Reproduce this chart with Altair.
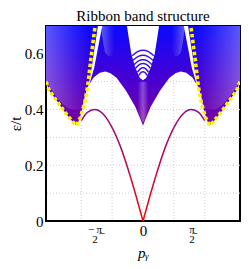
import altair as alt
import pandas as pd
import math

PI = math.pi

# ---- data ----
# lower envelope of the bulk continuum (p_y, eps/t)
env_p = [-PI, -3.03, -2.77, -2.51, -2.26, -2.15, -2.06, -1.97, -1.90, -1.80, -1.60, -1.40, -1.22, -1.05, -0.85, -0.55, -0.25, 0.0,
         0.25, 0.55, 0.85, 1.05, 1.22, 1.40, 1.60, 1.80, 1.90, 1.97, 2.06, 2.15, 2.26, 2.51, 2.77, 3.03, PI]
env_e = [0.500, 0.468, 0.428, 0.388, 0.354, 0.343, 0.365, 0.400, 0.440, 0.480, 0.515, 0.532, 0.537, 0.530, 0.513, 0.468, 0.410, 0.343,
         0.410, 0.468, 0.513, 0.530, 0.537, 0.532, 0.515, 0.480, 0.440, 0.400, 0.365, 0.343, 0.354, 0.388, 0.428, 0.468, 0.500]
top_e = 0.7

# white V-shaped gap at the centre (upper part)
gap_p = [-0.52, -0.45, -0.38, -0.26, -0.10, 0.0, 0.10, 0.26, 0.38, 0.45, 0.52]
gap_e = [0.700, 0.650, 0.600, 0.554, 0.513, 0.505, 0.513, 0.554, 0.600, 0.650, 0.700]

# arches seen inside the central gap
arch_c = [0.613, 0.595, 0.579, 0.565, 0.550, 0.536]
arch_mid = [0.608, 0.590, 0.575, 0.561, 0.546, 0.533]
arch_end = [0.593, 0.576, 0.561, 0.548, 0.534, 0.523]
arch_w = [0.35, 0.33, 0.29, 0.24, 0.18, 0.13]

# narrow white wedges just inside the yellow edges (left side; right side mirrored values)
wedge_e = [0.49, 0.55, 0.62, 0.70]
wedge_in = [1.76, 1.66, 1.57, 1.46]
wedge_out = [1.74, 1.58, 1.46, 1.32]

# sparse (lighter) line regions
sparse_left_p = [-PI, -2.9, -2.6, -2.3, -2.0, -1.75]
sparse_left_lo = [0.50, 0.46, 0.42, 0.40, 0.40, 0.48]
sparse_b_p = [-1.34, -1.2, -1.05, -0.92]
sparse_b_lo = [0.68, 0.60, 0.59, 0.62]
sparse_c_p = [-0.18, -0.09, 0.0, 0.09, 0.18]
sparse_c_lo = [0.40, 0.37, 0.355, 0.37, 0.40]
sparse_c_hi = [0.49, 0.50, 0.50, 0.50, 0.49]

# yellow dotted bulk edge
yl_p_left = [-PI, -3.03, -2.77, -2.51, -2.26, -2.15, -2.03, -1.88, -1.79, -1.69, -1.55]
yl_p_right = [PI, 3.03, 2.77, 2.51, 2.26, 2.15, 2.03, 1.88, 1.79, 1.69, 1.55]
yl_e = [0.500, 0.468, 0.428, 0.388, 0.354, 0.343, 0.371, 0.428, 0.485, 0.580, 0.700]

# edge state
edge_p_left = [-2.0, -1.8, -1.57, -1.3, -1.0, -0.7, -0.4, -0.2, 0.0]
edge_p_right = [0.0, 0.2, 0.4, 0.7, 1.0, 1.3, 1.57, 1.8, 2.0]
edge_e_left = [0.360, 0.390, 0.400, 0.385, 0.335, 0.258, 0.156, 0.080, 0.0]
edge_e_right = [0.0, 0.080, 0.156, 0.258, 0.335, 0.385, 0.400, 0.390, 0.360]

grid_x = [-2, -1, 0, 1, 2]
grid_y = [0.1, 0.2, 0.3, 0.4, 0.5, 0.6]

x_ticks = [-PI / 2, 0, PI / 2]
y_ticks = [0, 0.2, 0.4, 0.6]

# ---- tables ----
env_df = pd.DataFrame({"p": env_p, "e": env_e, "top": [top_e] * len(env_p)})
gap_df = pd.DataFrame({"p": gap_p, "e": gap_e, "top": [top_e] * len(gap_p)})
arch_rows = []
for i in range(len(arch_c)):
    pts = [(-arch_w[i], arch_end[i]), (-arch_w[i] / 2, arch_mid[i]), (0.0, arch_c[i]),
           (arch_w[i] / 2, arch_mid[i]), (arch_w[i], arch_end[i])]
    for p, e in pts:
        arch_rows.append({"p": p, "e": e, "k": i})
arch_df = pd.DataFrame(arch_rows)
wedge_df = pd.DataFrame({
    "e": wedge_e + wedge_e,
    "a": [-v for v in wedge_in] + wedge_out,
    "b": [-v for v in wedge_out] + wedge_in,
    "s": ["l"] * 4 + ["r"] * 4,
})
sp_left_df = pd.DataFrame({"p": sparse_left_p, "e": sparse_left_lo, "top": [top_e] * len(sparse_left_p)})
sp_right_df = pd.DataFrame({"p": [-v for v in sparse_left_p], "e": sparse_left_lo, "top": [top_e] * len(sparse_left_p)})
sp_b_left_df = pd.DataFrame({"p": sparse_b_p, "e": sparse_b_lo, "top": [top_e] * len(sparse_b_p)})
sp_b_right_df = pd.DataFrame({"p": [-v for v in sparse_b_p], "e": sparse_b_lo, "top": [top_e] * len(sparse_b_p)})
sp_c_df = pd.DataFrame({"p": sparse_c_p, "e": sparse_c_lo, "top": sparse_c_hi})
yl_df = pd.DataFrame({"p": yl_p_left + yl_p_right, "e": yl_e + yl_e, "s": ["l"] * 11 + ["r"] * 11,
                      "o": list(range(11)) + list(range(11))})
edge_df = pd.DataFrame({"p": edge_p_left + edge_p_right, "e": edge_e_left + edge_e_right,
                        "s": ["l"] * 9 + ["r"] * 9})
gx_df = pd.DataFrame({"p": grid_x})
gy_df = pd.DataFrame({"e": grid_y})

xs = alt.Scale(domain=[-PI, PI], nice=False, zero=False)
ys = alt.Scale(domain=[0, 0.7], nice=False, zero=False)

FONT = "Liberation Serif"

x_axis = alt.Axis(
    values=x_ticks,
    labelExpr="abs(datum.value) < 0.01 ? '0' : (datum.value < 0 ? ['\u2212\u2009\u03c0\u0332', '\u2007\u2009\u20092'] : ['\u03c0\u0332', '2'])",
    labelFontSize=alt.condition("abs(datum.value) < 0.01", alt.value(15), alt.value(11)),
    labelLineHeight=10.5,
    labelFont=FONT,
    labelColor="black",
    labelPadding=2,
    ticks=False,
    grid=False,
    domain=False,
    title="p\u1d67",
    titleFont=FONT,
    titleFontStyle="italic",
    titleFontWeight="normal",
    titleFontSize=15,
    titleColor="black",
    titlePadding=1,
)
y_axis = alt.Axis(
    values=y_ticks,
    format=".1~f",
    labelFontSize=15,
    labelFont=FONT,
    labelColor="black",
    labelPadding=3,
    ticks=False,
    grid=False,
    domain=False,
    title="\u03b5/t",
    titleFont=FONT,
    titleFontWeight="normal",
    titleFontSize=15,
    titleColor="black",
    titlePadding=1,
)


def X(field="p:Q"):
    return alt.X(field, scale=xs, axis=x_axis)


def Y(field="e:Q"):
    return alt.Y(field, scale=ys, axis=y_axis)


grid_v = alt.Chart(gx_df).mark_rule(color="#cfcfcf", strokeDash=[1, 2], strokeWidth=1).encode(x=X())
grid_h = alt.Chart(gy_df).mark_rule(color="#cfcfcf", strokeDash=[1, 2], strokeWidth=1).encode(y=Y())

band_grad = alt.Gradient(
    gradient="linear",
    stops=[alt.GradientStop(color="#0a0aff", offset=0), alt.GradientStop(color="#4a00d0", offset=0.55),
           alt.GradientStop(color="#7a00a0", offset=1)],
    x1=0, x2=0, y1=0, y2=1,
)
band = alt.Chart(env_df).mark_area(color=band_grad, clip=True).encode(x=X(), y=Y(), y2="top:Q")


def light(grad_dir):
    if grad_dir == "lr":
        stops = [alt.GradientStop(color="rgba(255,255,255,0.32)", offset=0),
                 alt.GradientStop(color="rgba(255,255,255,0.08)", offset=0.7),
                 alt.GradientStop(color="rgba(255,255,255,0)", offset=1)]
        return alt.Gradient(gradient="linear", stops=stops, x1=0, x2=1, y1=0, y2=0)
    if grad_dir == "rl":
        stops = [alt.GradientStop(color="rgba(255,255,255,0)", offset=0),
                 alt.GradientStop(color="rgba(255,255,255,0.08)", offset=0.3),
                 alt.GradientStop(color="rgba(255,255,255,0.32)", offset=1)]
        return alt.Gradient(gradient="linear", stops=stops, x1=0, x2=1, y1=0, y2=0)
    stops = [alt.GradientStop(color="rgba(255,255,255,0)", offset=0),
             alt.GradientStop(color="rgba(255,255,255,0.3)", offset=0.5),
             alt.GradientStop(color="rgba(255,255,255,0)", offset=1)]
    return alt.Gradient(gradient="linear", stops=stops, x1=0, x2=1, y1=0, y2=0)


def light_area(df, d):
    return alt.Chart(df).mark_area(color=light(d), clip=True, interpolate="monotone").encode(
        x=X(), y=Y(), y2="top:Q")


sp1 = light_area(sp_left_df, "lr")
sp2 = light_area(sp_right_df, "rl")
sp3 = light_area(sp_b_left_df, "lr")
sp4 = light_area(sp_b_right_df, "rl")
sp5 = light_area(sp_c_df, "c")

gap = alt.Chart(gap_df).mark_area(color="white", clip=True).encode(x=X(), y=Y(), y2="top:Q")

wedges = alt.Chart(wedge_df).mark_area(color="white", orient="horizontal", clip=True).encode(
    y=Y(), x=X("a:Q"), x2="b:Q", detail="s:N")

arches = alt.Chart(arch_df).mark_line(color="#3a14dc", strokeWidth=1.5, interpolate="monotone", clip=True).encode(
    x=X(), y=Y(), detail="k:N")

edge_grad = alt.Gradient(
    gradient="linear",
    stops=[alt.GradientStop(color="#8a0a8a", offset=0), alt.GradientStop(color="#ff0000", offset=1)],
    x1=0, x2=0, y1=0, y2=1,
)
edge = alt.Chart(edge_df).mark_line(stroke=edge_grad, strokeWidth=1.5, interpolate="monotone", clip=True).encode(
    x=X(), y=Y(), detail="s:N")

yellow = alt.Chart(yl_df).mark_line(color="#fff200", strokeWidth=3.6, strokeDash=[3.5, 2.5], clip=True).encode(
    x=X(), y=Y(), detail="s:N", order="o:Q")

chart = alt.layer(grid_v, grid_h, band, sp1, sp2, sp3, sp4, sp5, gap, wedges, arches, edge, yellow).properties(
    width=194, height=195, background="white", padding=0,
    title=alt.TitleParams("Ribbon band structure", font=FONT, fontSize=15, fontWeight="normal",
                          color="black", anchor="middle", frame="group", offset=2),
).configure_view(stroke="black", strokeWidth=2)

chart.save("out.html", embed_options={"renderer": "svg", "actions": False})
